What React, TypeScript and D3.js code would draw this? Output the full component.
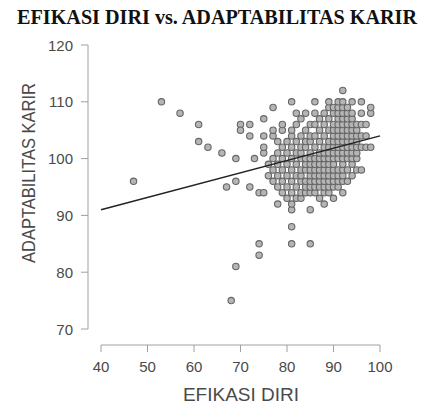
import * as d3 from "d3";

const W = 425;
const H = 406;

const TITLE = "EFIKASI DIRI vs. ADAPTABILITAS KARIR";
const X_LABEL = "EFIKASI DIRI";
const Y_LABEL = "ADAPTABILITAS KARIR";

const X_TICKS = [40, 50, 60, 70, 80, 90, 100];
const Y_TICKS = [70, 80, 90, 100, 110, 120];

// scattered points outside the main cluster: [efikasi, adaptabilitas]
const OUTLIERS: [number, number][] = [
  [47, 96], [53, 110], [57, 108], [61, 106], [61, 103], [63, 102],
  [66, 101], [67, 95], [68, 75], [69, 100], [69, 96], [69, 81],
  [70, 106], [70, 105], [72, 106], [72, 104], [72, 95], [73, 100],
  [74, 94], [74, 85], [74, 83],
];

// main cluster, one column per efikasi score
const CLUSTER_X = [75, 76, 77, 78, 79, 80, 81, 82, 83, 84, 85, 86, 87, 88, 89, 90, 91, 92, 93, 94, 95, 96, 97, 98];
const CLUSTER_Y: number[][] = [
  [94, 101, 102, 104, 107],
  [97, 99],
  [96, 98, 100, 104, 105, 109],
  [92, 95, 97, 99, 101, 103],
  [94, 96, 98, 100, 102, 105, 106],
  [93, 95, 97, 99, 101, 103],
  [85, 88, 91, 92, 94, 96, 98, 100, 102, 104, 105, 110],
  [93, 95, 97, 99, 101, 103, 106, 108],
  [93, 94, 96, 97, 98, 100, 101, 102, 104, 107],
  [94, 95, 96, 98, 99, 100, 102, 103, 105, 108],
  [85, 91, 94, 95, 96, 97, 98, 99, 100, 101, 103, 104, 106],
  [94, 95, 96, 97, 98, 99, 100, 102, 104, 106, 108, 110],
  [93, 95, 96, 97, 98, 99, 100, 101, 103, 105, 107],
  [92, 94, 95, 96, 97, 98, 99, 100, 101, 102, 104, 106, 108],
  [94, 95, 96, 97, 98, 99, 100, 101, 102, 103, 105, 107, 109, 110],
  [93, 95, 96, 97, 98, 99, 100, 101, 102, 103, 104, 105, 106, 108, 109],
  [95, 96, 97, 98, 100, 101, 102, 103, 104, 105, 106, 107, 108, 109, 110],
  [94, 96, 97, 98, 99, 100, 101, 102, 103, 104, 105, 106, 107, 108, 109, 110, 112],
  [96, 98, 100, 101, 102, 103, 104, 105, 106, 107, 108, 109],
  [97, 99, 100, 101, 102, 103, 104, 105, 106, 107, 108, 110],
  [98, 100, 101, 102, 103, 104, 105, 106],
  [98, 102, 104, 106, 108, 110],
  [102, 104, 106],
  [102, 108, 109],
];

// fitted line
const FIT_INTERCEPT = 82.33;
const FIT_SLOPE = 0.2167;
const FIT_RANGE = [40, 100];

const xScale = d3.scaleLinear().domain([40, 100]).range([101, 380]);
const yScale = d3.scaleLinear().domain([70, 120]).range([329, 45]);

const AXIS_COLOR = "#a0a0a0";
const TEXT_COLOR = "#4a4a4a";

export default function App() {
  const points: [number, number][] = [...OUTLIERS];
  CLUSTER_X.forEach((x, i) => CLUSTER_Y[i].forEach((y) => points.push([x, y])));

  const fitLine = d3
    .line<number>()
    .x((x) => xScale(x))
    .y((x) => yScale(FIT_INTERCEPT + FIT_SLOPE * x))(FIT_RANGE);

  const yAxisX = 88;
  const xAxisY = 345;

  return (
    <div style={{ position: "absolute", left: 0, top: 0 }}>
      <svg width={W} height={H} style={{ display: "block", background: "white" }}>
        <text
          x={217}
          y={24}
          textAnchor="middle"
          fontFamily="'Liberation Serif', 'DejaVu Serif', serif"
          fontWeight="bold"
          fontSize={20}
          textLength={400}
          lengthAdjust="spacingAndGlyphs"
          fill="#111"
        >
          {TITLE}
        </text>

        {/* y axis */}
        <line x1={yAxisX} x2={yAxisX} y1={yScale(120)} y2={yScale(70)} stroke={AXIS_COLOR} strokeWidth={1} />
        {Y_TICKS.map((t) => (
          <g key={t}>
            <line x1={yAxisX - 7} x2={yAxisX} y1={yScale(t)} y2={yScale(t)} stroke={AXIS_COLOR} strokeWidth={1} />
            <text
              x={73}
              y={yScale(t) + 5.5}
              textAnchor="end"
              fontFamily="'Liberation Sans', Arial, sans-serif"
              fontSize={15}
              fill={TEXT_COLOR}
            >
              {t}
            </text>
          </g>
        ))}

        {/* x axis */}
        <line x1={xScale(40)} x2={xScale(100)} y1={xAxisY} y2={xAxisY} stroke={AXIS_COLOR} strokeWidth={1} />
        {X_TICKS.map((t) => (
          <g key={t}>
            <line x1={xScale(t)} x2={xScale(t)} y1={xAxisY} y2={xAxisY + 7} stroke={AXIS_COLOR} strokeWidth={1} />
            <text
              x={xScale(t)}
              y={372}
              textAnchor="middle"
              fontFamily="'Liberation Sans', Arial, sans-serif"
              fontSize={15}
              fill={TEXT_COLOR}
            >
              {t}
            </text>
          </g>
        ))}

        <text
          x={241}
          y={401}
          textAnchor="middle"
          fontFamily="'Liberation Sans', Arial, sans-serif"
          fontSize={19}
          fill={TEXT_COLOR}
        >
          {X_LABEL}
        </text>
        <text
          transform={`translate(35, 173) rotate(-90)`}
          textAnchor="middle"
          fontFamily="'Liberation Sans', Arial, sans-serif"
          fontSize={19}
          textLength={180}
          lengthAdjust="spacingAndGlyphs"
          fill={TEXT_COLOR}
        >
          {Y_LABEL}
        </text>

        {/* points */}
        {points.map(([x, y], i) => (
          <circle
            key={i}
            cx={xScale(x)}
            cy={yScale(y)}
            r={3.2}
            fill="#b5b5b5"
            stroke="#666"
            strokeWidth={1.1}
          />
        ))}

        <path d={fitLine ?? ""} fill="none" stroke="#222" strokeWidth={1.5} />
      </svg>
    </div>
  );
}
